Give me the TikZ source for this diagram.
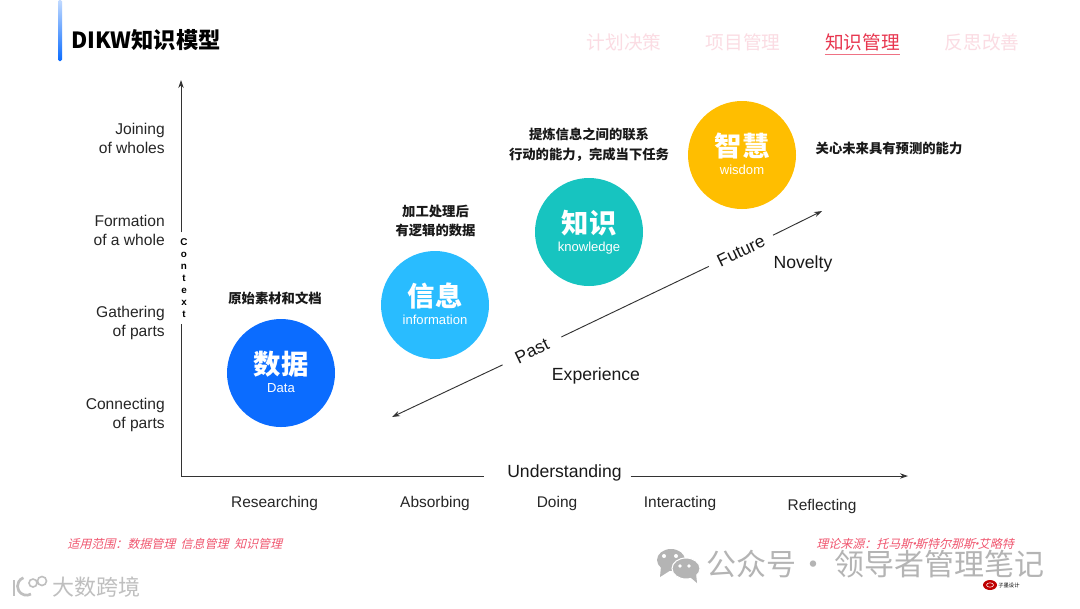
\documentclass[tikz,border=0pt]{standalone}
\usepackage{fontspec}
\setmainfont{Liberation Sans}
\newfontfamily\cjk{Noto Sans CJK SC}
\newfontfamily\cjkslant[FakeSlant=0.25]{Noto Sans CJK SC}
\usetikzlibrary{arrows.meta, calc, positioning}

\definecolor{dataBlue}{HTML}{0B6CFF}
\definecolor{infoBlue}{HTML}{29BCFF}
\definecolor{knowTeal}{HTML}{17C4C0}
\definecolor{wisdomGold}{HTML}{FFBE00}
\definecolor{navRed}{HTML}{E8364F}
\definecolor{navPale}{HTML}{FBDCE3}
\definecolor{noteRed}{HTML}{F0566F}
\definecolor{axisGray}{HTML}{333333}
\definecolor{markGray}{HTML}{B4B4B4}

\tikzset{
    axisline/.style={axisGray, line width=0.7pt},
    axisarrow/.style={axisline, ->, >={Stealth[length=6pt, width=4pt]}},
    levellabel/.style={font=\fontsize{11.7pt}{14.2pt}\selectfont, align=right, anchor=east, inner sep=0pt, text=black!85},
    actlabel/.style={font=\fontsize{11.6pt}{14pt}\selectfont, inner sep=0pt, text=black!85},
    biglabel/.style={font=\fontsize{13.2pt}{16pt}\selectfont, text=black!90},
    stagecircle/.style={circle, minimum size=81pt, inner sep=0pt, text=white, align=center},
    stagenote/.style={font=\cjk\bfseries\fontsize{10pt}{14.7pt}\selectfont, align=center, inner sep=0pt, text=black!90},
    navitem/.style={font=\cjk\fontsize{14pt}{16pt}\selectfont, inner sep=0pt, text=navPale},
    footnote/.style={font=\cjkslant\fontsize{9pt}{11pt}\selectfont, inner sep=0pt, text=noteRed},
    watermark/.style={font=\cjk\fontsize{22.5pt}{26pt}\selectfont, inner sep=0pt, text=markGray}
}
% big characters and small name inside a circle
\newcommand{\stagetext}[2]{{\cjk\bfseries\fontsize{20.5pt}{21pt}\selectfont #1}\\[1.25pt]{\fontsize{9.8pt}{11pt}\selectfont #2\rule[-2pt]{0pt}{2pt}}}
\newcommand{\namedot}{\kern-3.5pt·\kern-3.5pt}

\begin{document}
\begin{tikzpicture}[x=0.75pt, y=-0.75pt]
    \useasboundingbox (0,0) rectangle (1080,608);
    \fill[white] (0,0) rectangle (1080,608);

    % Title bar and title
    \shade[top color=dataBlue!25, bottom color=dataBlue, rounded corners=1pt] (58,0) rectangle (62,61);
    \node[font=\cjk\bfseries\fontsize{16.7pt}{20pt}\selectfont, anchor=west, inner sep=0pt] (title) at (71,40) {DIKW知识模型};

    % Navigation
    \node[navitem] (navplan) at (624,42) {计划决策};
    \node[navitem] (navproject) at (743,42) {项目管理};
    \node[navitem, text=navRed] (navknow) at (862.5,42) {知识管理};
    \node[navitem] (navreflect) at (982,42) {反思改善};
    \draw[navRed!70, line width=0.6pt] ($(navknow.south west)+(0,3)$) -- ($(navknow.south east)+(0,3)$);

    % Axes
    \coordinate (origin) at (181,476);
    \coordinate (ytop) at (181,80);
    \coordinate (xend) at (908,476);
    \node[font=\bfseries\fontsize{7.4pt}{9pt}\selectfont, align=center, inner xsep=0pt, inner ysep=4.5pt] (context) at (184,278) {C\\o\\n\\t\\e\\x\\t};
    \node[biglabel, inner xsep=6.5pt, inner ysep=1pt] (understanding) at (564.5,473) {Understanding};
    \draw[axisline] (origin) -- (origin |- context.south);
    \draw[axisarrow] (origin |- context.north) -- (ytop);
    \draw[axisline] (origin) -- ($(understanding.west |- origin)+(-14,0)$);
    \draw[axisarrow] (understanding.east |- origin) -- (xend);

    % Levels on the vertical axis
    \node[levellabel] (joining) at (165,138.8) {Joining\\of wholes};
    \node[levellabel] (formation) at (165,230.8) {Formation\\of a whole};
    \node[levellabel] (gathering) at (165,322.8) {Gathering\\of parts};
    \node[levellabel] (connecting) at (165,414.8) {Connecting\\of parts};

    % Activities under the horizontal axis
    \node[actlabel] (researching) at (274.5,503) {Researching};
    \node[actlabel] (absorbing) at (435,503) {Absorbing};
    \node[actlabel] (doing) at (557,503) {Doing};
    \node[actlabel] (interacting) at (680,503) {Interacting};
    \node[actlabel] (reflecting) at (822,506) {Reflecting};

    % Past to future
    \coordinate (pastend) at (392,417);
    \coordinate (futureend) at (822,211);
    \node[biglabel, rotate=25.6, inner xsep=11pt, inner ysep=1pt] (past) at (532,351) {Past};
    \node[biglabel, rotate=25.6, inner xsep=7.5pt, inner ysep=1pt] (future) at (741,251) {Future};
    \draw[axisarrow] (past) -- (pastend);
    \draw[axisline] (past) -- (future);
    \draw[axisarrow] (future) -- (futureend);
    \node[biglabel, inner sep=0pt] (experience) at (596,376) {Experience};
    \node[biglabel, inner sep=0pt] (novelty) at (803,264) {Novelty};

    % Stages
    \node[stagecircle, fill=dataBlue] (data) at (281,373) {\stagetext{数据}{Data}};
    \node[stagecircle, fill=infoBlue] (information) at (435,305) {\stagetext{信息}{information}};
    \node[stagecircle, fill=knowTeal] (knowledge) at (589,232) {\stagetext{知识}{knowledge}};
    \node[stagecircle, fill=wisdomGold] (wisdom) at (742,155) {\stagetext{智慧}{wisdom}};

    % Notes on the stages
    \node[stagenote] (datanote) at (275,298) {原始素材和文档};
    \node[stagenote] (infonote) at (435.5,221) {加工处理后\\有逻辑的数据};
    \node[stagenote] (knownote) at (589,144.5) {提炼信息之间的联系\\行动的能力，完成当下任务};
    \node[stagenote] (wisdomnote) at (889,148) {关心未来具有预测的能力};

    % Footnotes
    \node[footnote, anchor=west] (scope) at (67,544) {适用范围：数据管理\ \ 信息管理\ \ 知识管理};
    \node[footnote, anchor=east] (source) at (1014,544) {理论来源：托马斯\namedot 斯特尔那斯\namedot 艾略特};

    % Marks in the corners
    \fill[markGray] (671,560) ellipse (14 and 11);
    \fill[markGray] (661,566) -- (660,577) -- (671,570) -- cycle;
    \draw[white, line width=0.8pt, fill=markGray] (686,568.5) ellipse (14 and 10.5);
    \fill[markGray] (690,577) -- (697,583) -- (696,573) -- cycle;
    \fill[white] (664,556) circle (2) (676,556) circle (2) (680,566) circle (1.8) (689,566) circle (1.8);
    \node[watermark, anchor=west] (account) at (706,564) {公众号\kern-3.5pt{} · \kern-0.5pt{}领导者管理笔记};
    \node[font=\cjk\fontsize{16.5pt}{18pt}\selectfont, text=black!25, anchor=west, inner sep=0pt] (platform) at (52,587) {大数跨境};
    \draw[black!25, line width=2pt] (14,580) -- (14,596);
    \draw[black!25, line width=2pt] (31,594) arc (60:250:9);
    \draw[black!25, line width=1.2pt] (33,583) circle (4) (42,581) circle (4.5);
    \fill[red!75!black] (990,585) ellipse (7 and 5);
    \draw[white, line width=0.4pt] (990,585) ellipse (3.5 and 2.2);
    \node[font=\cjk\fontsize{4pt}{5pt}\selectfont, anchor=west, inner sep=0pt] (maker) at (998,585) {子墨设计};
\end{tikzpicture}
\end{document}
